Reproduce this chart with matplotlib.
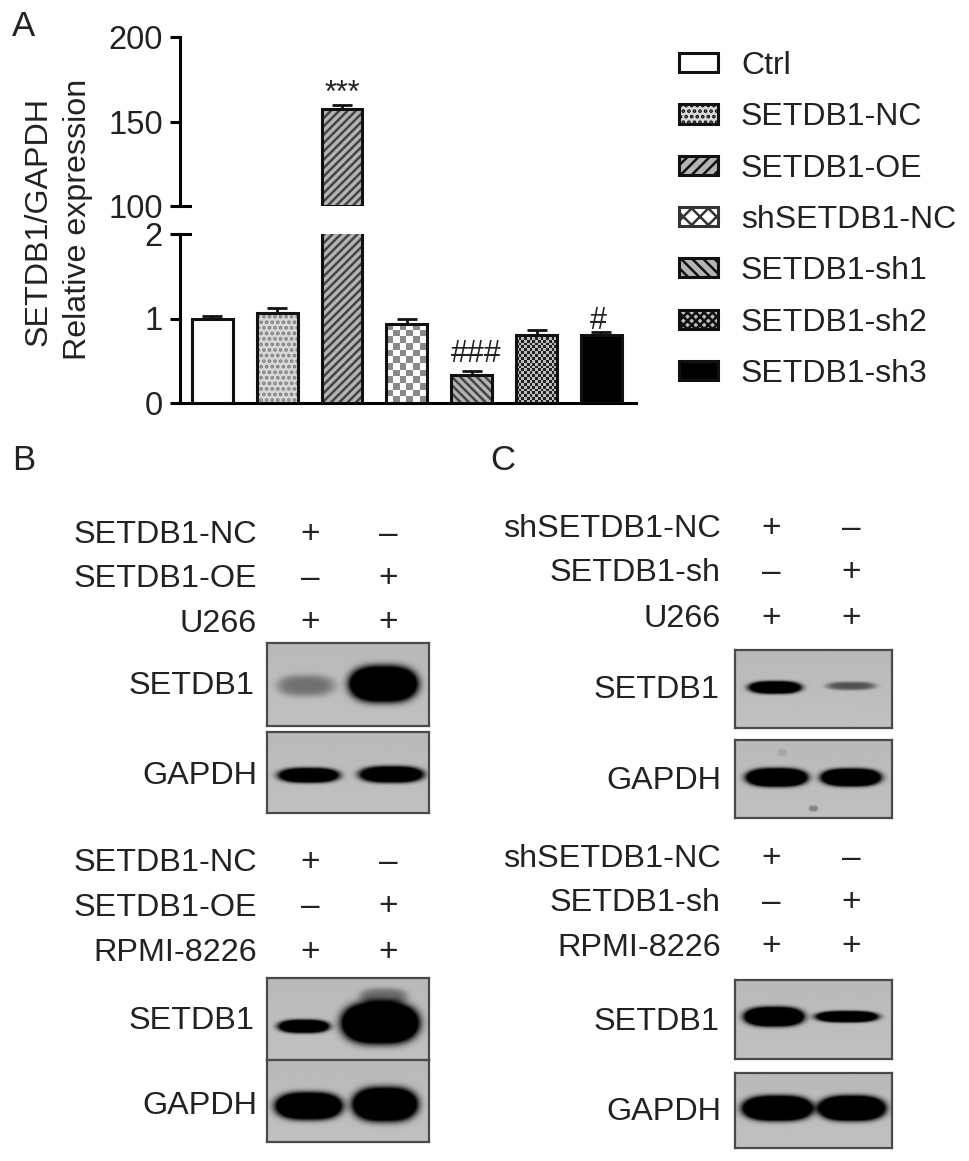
import matplotlib
matplotlib.use('Agg')
import matplotlib.pyplot as plt
from matplotlib.patches import Patch
import numpy as np

plt.rcParams['font.family'] = ['Liberation Sans', 'DejaVu Sans']
plt.rcParams['hatch.linewidth'] = 1.8

W, H = 969, 1161

groups = ['Ctrl', 'SETDB1-NC', 'SETDB1-OE', 'shSETDB1-NC', 'SETDB1-sh1', 'SETDB1-sh2', 'SETDB1-sh3']
values = [0.99, 1.07, 157.4, 0.94, 0.33, 0.81, 0.80]
errors = [0.035, 0.05, 2.4, 0.05, 0.05, 0.05, 0.04]
marks = ['', '', '***', '', '###', '', '#']
low_ticks = [0, 1, 2]
high_ticks = [100, 150, 200]

# bands: x, y, half width, half height, strength (fractions of the blot)
b_top_setdb1 = [(0.24, 0.52, 0.18, 0.13, 0.3), (0.72, 0.50, 0.21, 0.21, 1.6)]
b_top_gapdh = [(0.257, 0.54, 0.19, 0.09, 1.3), (0.77, 0.53, 0.20, 0.10, 1.3)]
b_low_setdb1 = [(0.226, 0.595, 0.16, 0.08, 1.3), (0.70, 0.555, 0.235, 0.24, 1.8), (0.72, 0.23, 0.15, 0.10, 0.3)]
b_low_gapdh = [(0.257, 0.567, 0.205, 0.16, 1.6), (0.73, 0.547, 0.20, 0.20, 1.6)]
c_top_setdb1 = [(0.254, 0.48, 0.17, 0.08, 1.3), (0.74, 0.46, 0.16, 0.055, 0.42)]
c_top_gapdh = [(0.265, 0.48, 0.195, 0.115, 1.6), (0.74, 0.48, 0.19, 0.11, 1.6), (0.30, 0.16, 0.03, 0.05, 0.08), (0.50, 0.88, 0.03, 0.04, 0.25)]
c_low_setdb1 = [(0.248, 0.464, 0.19, 0.12, 1.6), (0.714, 0.464, 0.20, 0.07, 1.4)]
c_low_gapdh = [(0.27, 0.47, 0.22, 0.16, 1.8), (0.746, 0.47, 0.21, 0.16, 1.8)]


def axes_px(x0, y0, x1, y1):
    return fig.add_axes([x0 / W, 1 - y1 / H, (x1 - x0) / W, (y1 - y0) / H])


def label(x, y, s, ha='right', size=23.3, color='#222222'):
    fig.text(x / W, 1 - (y + 3) / H, s, ha=ha, va='center', fontsize=size, color=color)


def blot(x0, y0, x1, y1, bands):
    ax = axes_px(x0, y0, x1, y1)
    yy, xx = np.mgrid[0:1:200j, 0:1:200j]
    img = np.full(xx.shape, 0.74) + 0.03 * (yy - 0.5)
    for cx, cy, hw, hh, s in bands:
        r2 = np.abs((xx - cx) / hw) ** 3 + ((yy - cy) / hh) ** 2
        img = img - s * np.exp(-r2 ** 2)
    ax.imshow(np.clip(img, 0, 1), cmap='gray', vmin=0, vmax=1, aspect='auto', extent=(0, 1, 1, 0))
    ax.set_xticks([])
    ax.set_yticks([])
    for s in ax.spines.values():
        s.set_linewidth(1.6)
        s.set_color('#4a4a4a')


def checker(ax, x, w, bottom, top, nx, ny, c1, c2):
    cells = np.indices((ny, nx)).sum(axis=0) % 2
    ax.imshow(cells, cmap=matplotlib.colors.ListedColormap([c1, c2]), aspect='auto', interpolation='nearest',
              extent=(x - w / 2, x + w / 2, bottom, top), zorder=1)


fig = plt.figure(figsize=(W / 100, H / 100), dpi=100, facecolor='white')

ax_hi = axes_px(180, 37, 636, 206)
ax_lo = axes_px(180, 234, 636, 403)
pos = np.arange(len(groups))
bw = 0.63
face = ['white', '#d8d8d8', '#b4b4b4', 'none', '#b4b4b4', 'none', 'black']
hatch = [None, '...', '////', None, '\\\\\\\\', None, None]
hatch_col = ['white', '#808080', '#444444', 'none', '#444444', 'none', 'black']
tall = 2
short = [0, 1, 3, 4, 5, 6]
lo_heights = [min(v, 3) for v in values]

ax_lo.bar(pos, lo_heights, bw, color=face, hatch=hatch, edgecolor=hatch_col, linewidth=0, zorder=2)
ax_lo.bar(pos, lo_heights, bw, color='none', edgecolor='#111111', linewidth=2.2, zorder=3)
ax_lo.errorbar(pos[short], [values[i] for i in short], yerr=[[0] * 6, [errors[i] for i in short]],
               fmt='none', ecolor='#111111', elinewidth=2, capsize=7, capthick=2, zorder=2)
checker(ax_lo, pos[3], bw, 0, values[3], 6, 12, '#8a8a8a', 'white')
checker(ax_lo, pos[5], bw, 0, values[5], 15, 24, '#222222', '#bdbdbd')

ax_hi.bar(pos[tall], values[tall] - 100, bw, bottom=100, color=face[tall], hatch=hatch[tall], edgecolor=hatch_col[tall], linewidth=0, zorder=2)
ax_hi.bar(pos[tall], values[tall] - 100, bw, bottom=100, color='none', edgecolor='#111111', linewidth=2.2, zorder=3)
ax_hi.errorbar(pos[tall], values[tall], yerr=[[0], [errors[tall]]], fmt='none', ecolor='#111111', elinewidth=2, capsize=7, capthick=2, zorder=2)

ax_hi.text(pos[2] + 0.01, values[2] + 9, marks[2], ha='center', va='center', fontsize=22, color='#222222')
ax_lo.text(pos[4] + 0.07, values[4] + 0.25, marks[4], ha='center', va='center', fontsize=22, color='#222222')
ax_lo.text(pos[6] - 0.04, values[6] + 0.17, marks[6], ha='center', va='center', fontsize=22, color='#222222')

for ax, lim, ticks in [(ax_hi, (100, 200), high_ticks), (ax_lo, (0, 2), low_ticks)]:
    ax.set_xlim(-0.5, 6.535)
    ax.set_ylim(*lim)
    ax.set_yticks(ticks)
    ax.set_xticks([])
    ax.tick_params(axis='y', labelsize=23.5, length=7.5, width=2.2, pad=5, labelcolor='#222222')
    ax.patch.set_alpha(0)
    for s in ['top', 'right']:
        ax.spines[s].set_visible(False)
    ax.spines['left'].set_linewidth(2.2)
    ax.spines['bottom'].set_linewidth(2.2)
ax_hi.spines['bottom'].set_visible(False)
# break marks reach inside the plot
ax_hi.plot([0, 0.022], [100, 100], color='black', lw=2.2, transform=ax_hi.get_yaxis_transform(), clip_on=False, zorder=5)
ax_lo.plot([0, 0.022], [2, 2], color='black', lw=2.2, transform=ax_lo.get_yaxis_transform(), clip_on=False, zorder=5)

fig.text(38.5 / W, 1 - 221 / H, 'SETDB1/GAPDH', rotation=90, ha='center', va='center', fontsize=23.2, color='#222222')
fig.text(78 / W, 1 - 219 / H, 'Relative expression', rotation=90, ha='center', va='center', fontsize=23.2, color='#222222')

handles = [Patch(facecolor='white', edgecolor='#111111', lw=2.2),
           Patch(facecolor='#d8d8d8', edgecolor='#111111', lw=2.2, hatch='...'),
           Patch(facecolor='#b4b4b4', edgecolor='#111111', lw=2.2, hatch='///'),
           Patch(facecolor='white', edgecolor='#333333', lw=2.2, hatch='xx'),
           Patch(facecolor='#b4b4b4', edgecolor='#111111', lw=2.2, hatch='\\\\\\'),
           Patch(facecolor='#bdbdbd', edgecolor='#111111', lw=2.2, hatch='xxxx'),
           Patch(facecolor='black', edgecolor='#111111', lw=2.2)]
fig.legend(handles, groups, loc='upper left', bbox_to_anchor=(679 / W, 1 - 51 / H), frameon=False, borderaxespad=0, borderpad=0,
           fontsize=23, handlelength=1.22, handleheight=0.54, handletextpad=0.72, labelspacing=0.667, labelcolor='#222222')

label(12, 24, 'A', ha='left', size=25)
label(12, 458, 'B', ha='left', size=25)
label(490, 458, 'C', ha='left', size=25)

# treatment rows: name, first lane, second lane
rows_b1 = [('SETDB1-NC', '+', '–'), ('SETDB1-OE', '–', '+'), ('U266', '+', '+')]
rows_b2 = [('SETDB1-NC', '+', '–'), ('SETDB1-OE', '–', '+'), ('RPMI-8226', '+', '+')]
rows_c1 = [('shSETDB1-NC', '+', '–'), ('SETDB1-sh', '–', '+'), ('U266', '+', '+')]
rows_c2 = [('shSETDB1-NC', '+', '–'), ('SETDB1-sh', '–', '+'), ('RPMI-8226', '+', '+')]

for rows, right, lanes, ys in [(rows_b1, 257, (310, 388), (532, 576, 621)),
                               (rows_b2, 257, (310, 388), (860, 905, 950)),
                               (rows_c1, 721, (771, 851), (526, 570, 616)),
                               (rows_c2, 721, (771, 851), (856, 900, 945))]:
    for (name, a, b), y in zip(rows, ys):
        label(right, y, name)
        label(lanes[0], y - 1, a, ha='center', size=24)
        label(lanes[1], y - 1, b, ha='center', size=24)

blot(267, 643, 429, 726, b_top_setdb1)
blot(267, 732, 429, 813, b_top_gapdh)
blot(267, 978, 429, 1060, b_low_setdb1)
blot(267, 1060, 429, 1142, b_low_gapdh)
blot(735, 650, 892, 728, c_top_setdb1)
blot(735, 740, 892, 818, c_top_gapdh)
blot(735, 980, 892, 1059, c_low_setdb1)
blot(735, 1073, 892, 1148, c_low_gapdh)

label(255, 683, 'SETDB1')
label(257, 773, 'GAPDH')
label(255, 1018, 'SETDB1')
label(257, 1103, 'GAPDH')
label(720, 687, 'SETDB1')
label(721, 778, 'GAPDH')
label(720, 1019, 'SETDB1')
label(721, 1109, 'GAPDH')

plt.savefig('out.png', dpi=100)
